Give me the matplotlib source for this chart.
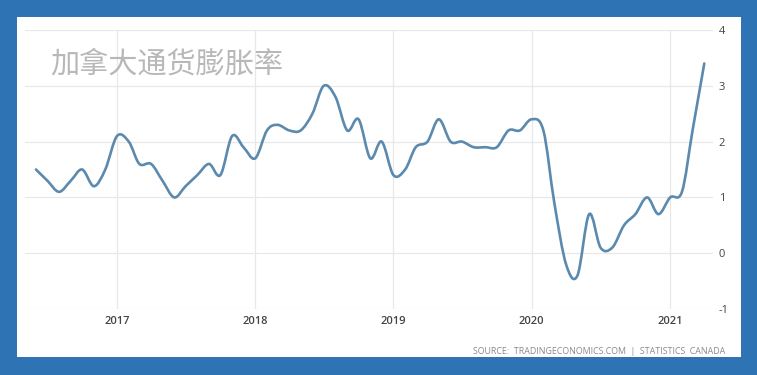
import numpy as np
import pandas as pd
import matplotlib
matplotlib.use("Agg")
import matplotlib.pyplot as plt
import matplotlib.dates as mdates
from matplotlib.path import Path
from matplotlib.patches import PathPatch, Rectangle

plt.rcParams['font.family'] = ['Open Sans', 'Noto Sans CJK SC', 'DejaVu Sans']

# Canada CPI, year-on-year %, monthly Jun 2016 - Apr 2021
months = pd.date_range('2016-06-01', '2021-04-01', freq='MS')
cpi = [1.5, 1.3, 1.1, 1.3, 1.5, 1.2, 1.5,
       2.1, 2.0, 1.6, 1.6, 1.3, 1.0, 1.2, 1.4, 1.6, 1.4, 2.1, 1.9,
       1.7, 2.2, 2.3, 2.2, 2.2, 2.5, 3.0, 2.8, 2.2, 2.4, 1.7, 2.0,
       1.4, 1.5, 1.9, 2.0, 2.4, 2.0, 2.0, 1.9, 1.9, 1.9, 2.2, 2.2,
       2.4, 2.2, 0.9, -0.2, -0.4, 0.7, 0.1, 0.1, 0.5, 0.7, 1.0, 0.7,
       1.0, 1.1, 2.2, 3.4]
years = [2017, 2018, 2019, 2020, 2021]
yticks = [-1, 0, 1, 2, 3, 4]
title = '加拿大通货膨胀率'
source = 'SOURCE:  TRADINGECONOMICS.COM  |  STATISTICS  CANADA'

W, H = 757, 375
fig = plt.figure(figsize=(W / 100, H / 100), dpi=100)
fig.patch.set_facecolor('#2e74b5')
fig.add_artist(Rectangle((17 / W, 18 / H), (741 - 17) / W, (358 - 18) / H,
                         transform=fig.transFigure, facecolor='white',
                         edgecolor='none', zorder=0))

ax = fig.add_axes([25 / W, (H - 309) / H, (713 - 25) / W, (309 - 30) / H])
ax.set_facecolor('none')

x = mdates.date2num(months)
y = np.array(cpi)

# smooth spline-like curve through the monthly points (cubic bezier)
xp = np.concatenate([[x[0]], x, [x[-1]]])
yp = np.concatenate([[y[0]], y, [y[-1]]])
verts = [(x[0], y[0])]
codes = [Path.MOVETO]
for i in range(1, len(x)):
    p0 = np.array([xp[i - 1], yp[i - 1]])
    p1 = np.array([xp[i], yp[i]])
    p2 = np.array([xp[i + 1], yp[i + 1]])
    p3 = np.array([xp[i + 2], yp[i + 2]])
    c1 = p1 + (p2 - p0) / 6
    c2 = p2 - (p3 - p1) / 6
    verts += [tuple(c1), tuple(c2), tuple(p2)]
    codes += [Path.CURVE4] * 3
ax.add_patch(PathPatch(Path(verts, codes), facecolor='none',
                       edgecolor='#5b8aae', lw=1.9, capstyle='round',
                       joinstyle='round', zorder=3))

ax.set_xlim(mdates.date2num(pd.Timestamp('2016-05-03')),
            mdates.date2num(pd.Timestamp('2021-04-24')))
ax.set_ylim(-1, 4)

ax.set_xticks([mdates.date2num(pd.Timestamp(f'{yr}-01-01')) for yr in years])
ax.set_xticklabels([str(yr) for yr in years], fontsize=8, color='#444444',
                   fontweight='semibold')
ax.set_yticks(yticks)
ax.set_yticklabels([str(v) for v in yticks], fontsize=8, color='#444444')
ax.yaxis.tick_right()
ax.tick_params(length=0, pad=5)
ax.tick_params(axis='y', pad=4)
ax.grid(True, color='#e8e8e8', lw=0.9)
for s in ax.spines.values():
    s.set_visible(False)

fig.text(50 / W, 1 - 64 / H, title, fontsize=21, color='#b8b8b8',
         va='center', ha='left', family=['Noto Sans CJK SC', 'DejaVu Sans'])
fig.text(725 / W, 1 - 351 / H, source, fontsize=6.4, color='#8a8a8a',
         va='center', ha='right')

fig.savefig('out.png', dpi=100)
